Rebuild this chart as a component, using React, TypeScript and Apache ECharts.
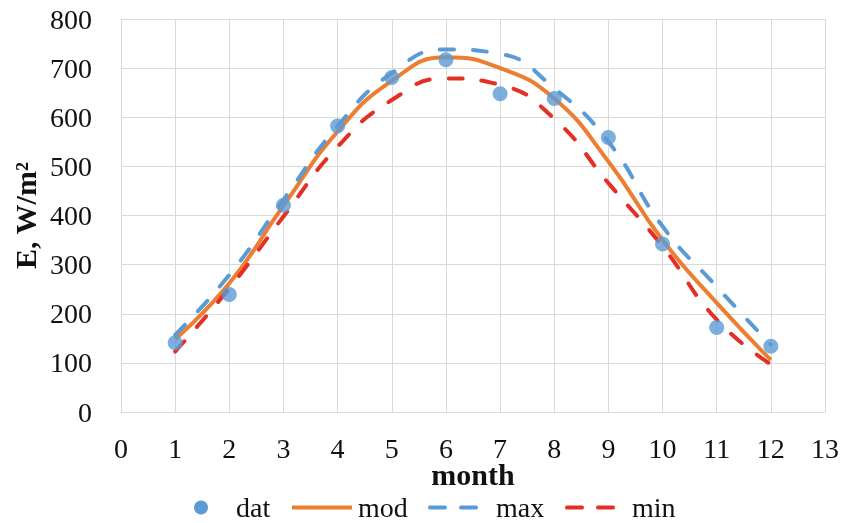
import React, { useEffect, useRef } from "react";
import * as echarts from "echarts";

const months = [1, 2, 3, 4, 5, 6, 7, 8, 9, 10, 11, 12];
const datValues = [141, 239, 421, 582, 681, 717, 648, 638, 559, 342, 172, 134];
const modValues = [148, 262, 420, 571, 674, 722, 700, 638, 510, 350, 222, 106];
const maxValues = [157, 279, 432, 582, 690, 738, 729, 659, 550, 378, 255, 137];
const minValues = [123, 252, 398, 540, 635, 679, 666, 597, 466, 337, 188, 97];
const xTicks = [0, 1, 2, 3, 4, 5, 6, 7, 8, 9, 10, 11, 12, 13];
const yTicks = [0, 100, 200, 300, 400, 500, 600, 700, 800];
const legendNames = ["dat", "mod", "max", "min"];

const FONT = "Liberation Serif";
const BLUE = "#5B9BD5";
const ORANGE = "#ED7D31";
const RED = "#E32F24";

const pairs = (ys: number[]) => months.map((m, i) => [m, ys[i]]);

export default function App() {
  const ref = useRef<HTMLDivElement>(null);
  useEffect(() => {
    if (!ref.current) return;
    const chart = echarts.init(ref.current, undefined, { renderer: "svg" });
    const grid = "#D9D9D9";
    chart.setOption({
      animation: false,
      grid: { left: 121, right: 21, top: 19, bottom: 111, containLabel: false, outerBoundsMode: "none" },
      xAxis: {
        type: "value",
        min: 0,
        max: 13,
        interval: 1,
        name: "month",
        nameLocation: "middle",
        nameGap: 47,
        nameMoveOverlap: false,
        nameTextStyle: { fontFamily: FONT, fontSize: 30, fontWeight: "bold", color: "#111" },
        axisLine: { show: true, lineStyle: { color: grid, width: 1 } },
        axisTick: { show: false },
        axisLabel: { show: false },
        splitLine: { show: true, lineStyle: { color: grid, width: 1 } },
      },
      yAxis: {
        type: "value",
        min: 0,
        max: 800,
        interval: 100,
        name: "E, W/m²",
        nameLocation: "middle",
        nameGap: 81,
        nameMoveOverlap: false,
        nameTextStyle: { fontFamily: FONT, fontSize: 30, fontWeight: "bold", color: "#111" },
        axisLine: { show: true, lineStyle: { color: grid, width: 1 } },
        axisTick: { show: false },
        axisLabel: { show: false },
        splitLine: { show: true, lineStyle: { color: grid, width: 1 } },
      },
      series: [
        {
          name: "dat",
          type: "scatter",
          data: pairs(datValues),
          symbol: "circle",
          symbolSize: 15,
          itemStyle: { color: BLUE },
          z: 5,
        },
        {
          name: "mod",
          type: "line",
          data: pairs(modValues),
          smooth: 0.5,
          symbol: "none",
          lineStyle: { color: ORANGE, width: 4 },
          z: 3,
        },
        {
          name: "max",
          type: "line",
          data: pairs(maxValues),
          smooth: 0.5,
          symbol: "none",
          lineStyle: { color: BLUE, width: 4, type: [14, 19], cap: "round" },
          z: 3,
        },
        {
          name: "min",
          type: "line",
          data: pairs(minValues),
          smooth: 0.5,
          symbol: "none",
          lineStyle: { color: RED, width: 4, type: [14, 19], cap: "round" },
          z: 3,
        },
      ],
    });

    const toPx = (x: number, y: number) =>
      chart.convertToPixel({ gridIndex: 0 }, [x, y]) as unknown as number[];
    const txt = { fontFamily: FONT, fontSize: 28, fill: "#111" };
    const xAxisY = toPx(0, 0)[1];
    const yAxisX = toPx(0, 0)[0];

    const tickTexts: any[] = [
      ...xTicks.map((v) => ({
        type: "text",
        x: toPx(v, 0)[0],
        y: xAxisY + 36,
        style: { ...txt, text: String(v), align: "center", verticalAlign: "middle" },
      })),
      ...yTicks.map((v) => ({
        type: "text",
        x: yAxisX - 29,
        y: toPx(0, v)[1],
        style: { ...txt, text: String(v), align: "right", verticalAlign: "middle" },
      })),
    ];

    const ly = 507.5;
    const legendEls: any[] = [
      { type: "circle", shape: { cx: 201, cy: ly, r: 7 }, style: { fill: BLUE } },
      { type: "text", x: 236, y: ly, style: { ...txt, text: legendNames[0], align: "left", verticalAlign: "middle" } },
      { type: "line", shape: { x1: 292, y1: ly, x2: 352, y2: ly }, style: { stroke: ORANGE, lineWidth: 4 } },
      { type: "text", x: 358, y: ly, style: { ...txt, text: legendNames[1], align: "left", verticalAlign: "middle" } },
      {
        type: "line",
        shape: { x1: 430, y1: ly, x2: 476, y2: ly },
        style: { stroke: BLUE, lineWidth: 4, lineDash: [15, 16], lineCap: "round" },
      },
      { type: "text", x: 496, y: ly, style: { ...txt, text: legendNames[2], align: "left", verticalAlign: "middle" } },
      {
        type: "line",
        shape: { x1: 567, y1: ly, x2: 613, y2: ly },
        style: { stroke: RED, lineWidth: 4, lineDash: [15, 16], lineCap: "round" },
      },
      { type: "text", x: 632, y: ly, style: { ...txt, text: legendNames[3], align: "left", verticalAlign: "middle" } },
    ];

    chart.setOption({ graphic: [...tickTexts, ...legendEls] });
    return () => chart.dispose();
  }, []);
  return (
    <div
      ref={ref}
      style={{ position: "fixed", left: 0, top: 0, width: 846, height: 523 }}
    />
  );
}
